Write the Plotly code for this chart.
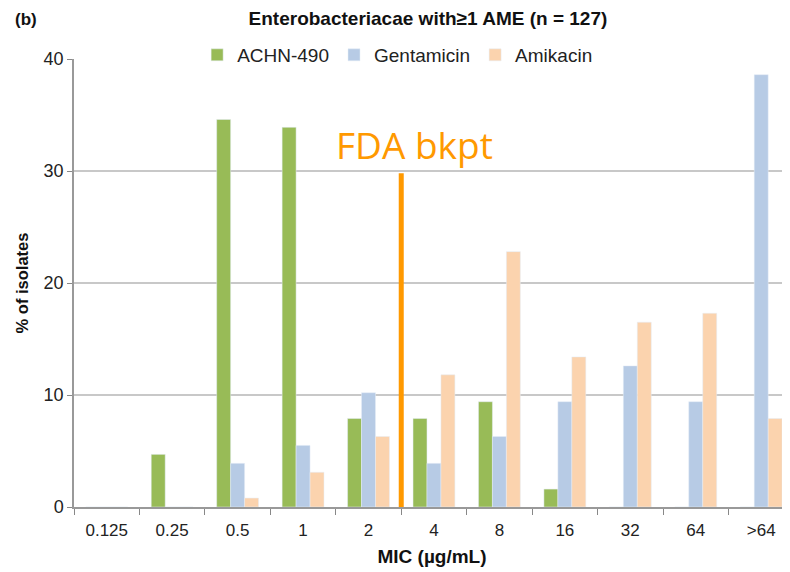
import plotly.graph_objects as go

categories = ["0.125", "0.25", "0.5", "1", "2", "4", "8", "16", "32", "64", ">64"]
achn490 = [0, 4.7, 34.6, 33.9, 7.9, 7.9, 9.4, 1.6, 0, 0, 0]
gentamicin = [0, 0, 3.9, 5.5, 10.2, 3.9, 6.3, 9.4, 12.6, 9.4, 38.6]
amikacin = [0, 0, 0.8, 3.1, 6.3, 11.8, 22.8, 13.4, 16.5, 17.3, 7.9]
y_ticks = [0, 10, 20, 30, 40]
bkpt_position = 4.5   # boundary between "2" (index 4) and "4" (index 5)
bkpt_top = 29.8
bkpt_label = "FDA bkpt"

font_main = "Liberation Sans, Arial, sans-serif"

fig = go.Figure()
fig.add_bar(name="ACHN-490", x=categories, y=achn490, marker_color="#98BB57")
fig.add_bar(name="Gentamicin", x=categories, y=gentamicin, marker_color="#B7CBE5")
fig.add_bar(name="Amikacin", x=categories, y=amikacin, marker_color="#FBD3AE")

fig.add_shape(type="line", xref="x", yref="y", x0=bkpt_position, x1=bkpt_position,
              y0=0, y1=bkpt_top, line=dict(color="#FF9900", width=5))
fig.add_annotation(x=bkpt_position, y=bkpt_top, xref="x", yref="y", text=bkpt_label,
                   showarrow=False, yanchor="bottom", yshift=1, xshift=13,
                   font=dict(family="Open Sans, sans-serif", size=37, color="#FF9900"))

fig.update_layout(
    width=782, height=564,
    margin=dict(l=66, r=0, t=51, b=65, autoexpand=False),
    paper_bgcolor="white", plot_bgcolor="white",
    barmode="group", bargap=0.36, bargroupgap=0,
    font=dict(family=font_main, size=15, color="#222"),
    title=dict(text="<b>Enterobacteriacae with≥1 AME (n = 127)</b>",
               xref="container", x=0.537, xanchor="center",
               yref="container", y=0.982, yanchor="middle",
               font=dict(size=19, color="#111")),
    legend=dict(orientation="h", x=0.452, xanchor="center", y=1.009, yanchor="middle",
                bgcolor="white", font=dict(size=19, color="#222"),
                itemwidth=30, traceorder="normal"),
    showlegend=True,
)
fig.add_annotation(text="<b>(b)</b>", xref="paper", yref="paper", x=-0.067, y=1.089,
                   xanchor="center", yanchor="middle", showarrow=False,
                   font=dict(size=17, color="#111"))

fig.update_xaxes(
    type="category", range=[-0.5, 10.44],
    tickson="boundaries", ticks="outside", ticklen=6, tickcolor="#888",
    showline=True, linecolor="#999", linewidth=1.5, showgrid=False,
    tickfont=dict(size=17, color="#222"), ticklabelstandoff=7,
    title=dict(text="<b>MIC (µg/mL)</b>", font=dict(size=19, color="#111"), standoff=11),
)
fig.update_yaxes(
    range=[0, 40], tickvals=y_ticks, ticks="outside", ticklen=5, tickcolor="#888",
    showline=True, linecolor="#999", linewidth=1.5,
    showgrid=True, gridcolor="#C8C8C8", gridwidth=1.5, zeroline=False,
    tickfont=dict(size=18, color="#222"),
    title=dict(text="<b>% of isolates</b>", font=dict(size=16.5, color="#111"), standoff=11),
)

fig.write_html("out.html")
